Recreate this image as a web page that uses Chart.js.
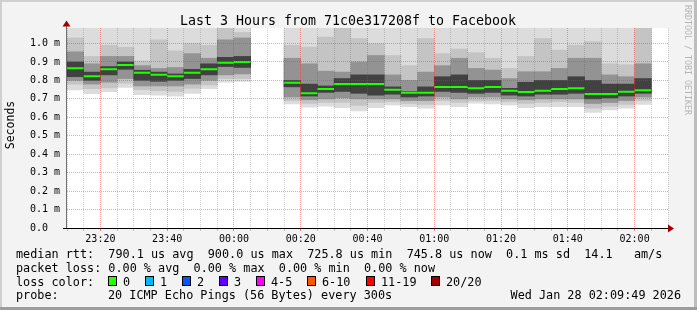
<!DOCTYPE html>
<html>
<head>
<meta charset="utf-8">
<script src="https://cdn.jsdelivr.net/npm/chart.js@4"></script>
<style>
  html, body { margin: 0; padding: 0; background: #f3f3f3; }
  canvas { display: block; }
</style>
</head>
<body>
<canvas id="smoke" width="697" height="310"></canvas>
<script>
// 5 minute slots (start time), values in ms
const times = ['23:10','23:15','23:20','23:25','23:30','23:35','23:40','23:45','23:50','23:55',
               '00:00','00:05','00:10','00:15','00:20','00:25','00:30','00:35','00:40','00:45',
               '00:50','00:55','01:00','01:05','01:10','01:15','01:20','01:25','01:30','01:35',
               '01:40','01:45','01:50','01:55','02:00'];
const median  = [0.866,0.823,0.861,0.883,0.841,0.830,0.823,0.841,0.861,0.895,0.900,null,null,0.787,0.731,0.753,0.780,0.780,0.780,0.749,
                 0.733,0.733,0.764,0.764,0.758,0.764,0.744,0.737,0.744,0.753,0.758,0.726,0.726,0.739,0.746];
// smoke layers: outer (lightest) .. core (darkest)
const pingMin = [0.748,0.728,0.739,0.762,0.722,0.720,0.715,0.730,0.755,0.790,0.795,null,null,0.672,0.655,0.660,0.652,0.635,0.652,0.667,
                 0.657,0.650,0.667,0.657,0.676,0.672,0.667,0.652,0.657,0.657,0.657,0.627,0.640,0.650,0.670];
const band2Lo = [0.780,0.755,0.760,0.785,0.750,0.745,0.740,0.757,0.775,0.810,0.810,null,null,0.690,0.675,0.680,0.680,0.665,0.680,0.685,
                 0.675,0.670,0.690,0.680,0.690,0.690,0.685,0.675,0.680,0.685,0.680,0.650,0.660,0.670,0.690];
const band3Lo = [0.800,0.780,0.790,0.810,0.770,0.770,0.770,0.780,0.800,0.830,0.835,null,null,0.710,0.695,0.700,0.705,0.700,0.700,0.700,
                 0.690,0.690,0.710,0.700,0.710,0.710,0.700,0.695,0.700,0.700,0.700,0.675,0.680,0.690,0.710];
const coreLo  = [0.820,0.800,0.830,0.860,0.800,0.795,0.800,0.810,0.830,0.875,0.870,null,null,0.765,0.715,0.735,0.740,0.730,0.720,0.725,
                 0.710,0.715,0.740,0.735,0.730,0.735,0.720,0.715,0.725,0.725,0.730,0.700,0.705,0.715,0.730];
const coreHi  = [0.900,0.845,0.875,0.900,0.855,0.845,0.835,0.860,0.890,0.925,0.930,null,null,0.800,0.780,0.770,0.810,0.830,0.830,0.765,
                 0.740,0.765,0.820,0.830,0.800,0.800,0.757,0.790,0.800,0.800,0.820,0.800,0.780,0.780,0.810];
const band3Hi = [0.955,0.890,0.930,0.930,0.880,0.865,0.870,0.945,0.920,1.020,1.030,null,null,0.920,0.890,0.850,0.845,0.900,0.935,0.830,
                 0.800,0.845,0.880,0.920,0.865,0.856,0.810,0.847,0.847,0.865,0.920,0.920,0.830,0.820,0.890];
const band2Hi = [1.030,0.930,0.990,0.980,0.905,1.020,0.960,1.000,0.990,1.100,1.060,null,null,0.990,0.980,1.035,1.100,1.027,1.000,0.935,
                 0.880,1.027,0.945,0.970,0.950,0.920,0.865,0.930,1.027,0.965,0.990,1.010,0.890,0.885,1.100];
const pingMax = [1.10,1.10,1.10,1.10,1.10,1.10,1.10,1.10,1.10,1.10,1.10,null,null,1.10,1.10,1.10,1.10,1.10,1.10,1.10,
                 1.10,1.10,1.10,1.10,1.10,1.10,1.10,1.10,1.10,1.10,1.10,1.10,1.10,1.10,1.10];

const tickLabels = ['23:20','23:40','00:00','00:20','00:40','01:00','01:20','01:40','02:00'];
const lossLabels = ['0','1','2','3','4-5','6-10','11-19','20/20'];
const lossColors = ['#26ff00','#00b8ff','#0059ff','#5e00ff','#ff00ff','#ff5500','#ff0000','#a10000'];

const title = 'Last 3 Hours from 71c0e317208f to Facebook';
const rttLine = 'median rtt:  790.1 us avg  900.0 us max  725.8 us min  745.8 us now  0.1 ms sd  14.1   am/s';
const lossLine = 'packet loss: 0.00 % avg  0.00 % max  0.00 % min  0.00 % now';
const probeText = '20 ICMP Echo Pings (56 Bytes) every 300s';
const stamp = 'Wed Jan 28 02:09:49 2026';

const START = 23 * 60 + 10;
function toMin(s) {
  const [h, m] = s.split(':').map(Number);
  return (h * 60 + m - START + 1440) % 1440;
}
const xs = times.map(toMin);
const majorX = tickLabels.map(toMin);

function band(lo, hi) {
  const out = [];
  xs.forEach((x, i) => { if (lo[i] != null) out.push({ x: x + 2.5, y: [lo[i], hi[i]] }); });
  return out;
}
const medPts = [];
xs.forEach((x, i) => {
  if (median[i] == null) return;
  medPts.push({ x: x, y: median[i] }, { x: x + 5, y: median[i] }, { x: x + 5, y: null });
});

function layer(lo, hi, color, order) {
  return { type: 'bar', data: band(lo, hi), backgroundColor: color, borderWidth: 0,
           grouped: false, barPercentage: 1, categoryPercentage: 1, order: order };
}

const MONO = '"DejaVu Sans Mono"';
const isMajor = c => c.tick && majorX.includes(c.tick.value);

const frame = {
  id: 'frame',
  beforeDraw(chart) {
    const { ctx, chartArea: a, width, height } = chart;
    ctx.save();
    ctx.fillStyle = '#f3f3f3';
    ctx.fillRect(0, 0, width, height);
    ctx.fillStyle = '#ffffff';
    ctx.fillRect(a.left, a.top, a.right - a.left, a.bottom - a.top);
    ctx.restore();
  },
  afterDraw(chart) {
    const { ctx, chartArea: a } = chart;
    ctx.save();
    // axes
    ctx.fillStyle = '#707070';
    ctx.fillRect(a.left - 1, a.top - 2, 1, a.bottom - a.top + 2);
    ctx.fillStyle = '#000';
    ctx.fillRect(a.left - 4, a.bottom, a.right - a.left + 6, 1);
    ctx.fillStyle = '#a00000';
    ctx.beginPath();
    ctx.moveTo(a.right, a.bottom - 3.5); ctx.lineTo(a.right + 6, a.bottom + 0.5); ctx.lineTo(a.right, a.bottom + 4.5);
    ctx.closePath(); ctx.fill();
    ctx.beginPath();
    ctx.moveTo(a.left - 4.5, a.top - 1.5); ctx.lineTo(a.left - 0.5, a.top - 7.5); ctx.lineTo(a.left + 3.5, a.top - 1.5);
    ctx.closePath(); ctx.fill();

    // title and axis title
    ctx.fillStyle = '#000';
    ctx.font = '13.3px ' + MONO;
    ctx.textAlign = 'center';
    ctx.textBaseline = 'alphabetic';
    ctx.fillText(title, 348, 24.5);
    ctx.save();
    ctx.translate(14, 125);
    ctx.rotate(-Math.PI / 2);
    ctx.font = '11.5px ' + MONO;
    ctx.fillText('Seconds', 0, 0);
    ctx.restore();

    // watermark
    ctx.save();
    ctx.translate(685, 5);
    ctx.rotate(Math.PI / 2);
    ctx.fillStyle = '#b4b4b4';
    ctx.font = '8.3px ' + MONO;
    ctx.textAlign = 'left';
    ctx.fillText('RRDTOOL / TOBI OETIKER', 0, 0);
    ctx.restore();

    // legend
    ctx.font = '11.8px ' + MONO;
    ctx.textAlign = 'left';
    ctx.fillStyle = '#000';
    ctx.fillText(rttLine, 16, 258);
    ctx.fillText(lossLine, 16, 271.7);
    ctx.fillText('loss color:', 16, 285.5);
    const boxX = [108, 145, 182, 219, 256, 307, 366, 431];
    lossLabels.forEach((lab, i) => {
      ctx.fillStyle = lossColors[i];
      ctx.fillRect(boxX[i], 276, 9, 10);
      ctx.strokeStyle = '#000';
      ctx.lineWidth = 1;
      ctx.strokeRect(boxX[i] + 0.5, 276.5, 8, 9);
      ctx.fillStyle = '#000';
      ctx.fillText(lab, boxX[i] + 15, 285.5);
    });
    ctx.fillText('probe:', 16, 299);
    ctx.fillText(probeText, 108, 299);
    ctx.textAlign = 'right';
    ctx.fillText(stamp, 681, 299);

    // frame edges
    ctx.fillStyle = '#cfcfcf';
    ctx.fillRect(0, 0, 697, 2);
    ctx.fillRect(0, 0, 2, 310);
    ctx.fillStyle = '#bdbdbd';
    ctx.fillRect(694, 0, 3, 310);
    ctx.fillStyle = '#9c9c9c';
    ctx.fillRect(0, 307, 697, 3);
    ctx.restore();
  }
};

new Chart(document.getElementById('smoke'), {
  type: 'bar',
  data: {
    datasets: [
      layer(pingMin, pingMax, '#dcdcdc', 6),
      layer(band2Lo, band2Hi, '#c4c4c4', 5),
      layer(band3Lo, band3Hi, '#939393', 4),
      layer(coreLo, coreHi, '#414141', 3),
      { type: 'line', data: medPts, borderColor: '#1eff00', borderWidth: 2, pointRadius: 0,
        spanGaps: false, borderCapStyle: 'butt', order: 1 }
    ]
  },
  options: {
    responsive: false,
    animation: false,
    events: [],
    layout: { padding: { top: 28, right: 29, left: 0, bottom: 0 } },
    plugins: { legend: { display: false }, tooltip: { enabled: false } },
    scales: {
      x: {
        type: 'linear', min: 0, max: 180, bounds: 'data', offset: false,
        afterFit(s) { s.height = 82; },
        ticks: {
          stepSize: 5, autoSkip: false, maxRotation: 0, padding: 2, color: '#000',
          font: { family: 'DejaVu Sans Mono', size: 10 },
          callback(v) { const k = majorX.indexOf(v); return k >= 0 ? tickLabels[k] : ''; }
        },
        grid: {
          z: 1, lineWidth: 1, tickLength: 3, offset: false,
          color: c => isMajor(c) ? 'rgba(255,40,40,0.45)' : 'rgba(0,0,0,0.16)',
          tickColor: c => isMajor(c) ? 'rgba(255,40,40,0.6)' : 'rgba(0,0,0,0.2)'
        },
        border: { display: false, dash: [1, 1] }
      },
      y: {
        min: 0, max: 1.084, bounds: 'data',
        afterFit(s) { s.width = 67; },
        afterBuildTicks(s) { s.ticks = s.ticks.filter(t => Math.abs(t.value * 10 - Math.round(t.value * 10)) < 1e-6); },
        ticks: {
          stepSize: 0.1, padding: 7, color: '#000',
          font: { family: 'DejaVu Sans Mono', size: 10 },
          callback: v => v < 0.05 ? '0.0  ' : v.toFixed(1) + ' m'
        },
        grid: {
          z: 1, lineWidth: 1, drawTicks: false,
          color: c => (!c.tick || c.tick.value < 0.05) ? 'rgba(0,0,0,0)' : 'rgba(255,40,40,0.45)'
        },
        border: { display: false, dash: [1, 1] }
      }
    }
  },
  plugins: [frame]
});
</script>
</body>
</html>
